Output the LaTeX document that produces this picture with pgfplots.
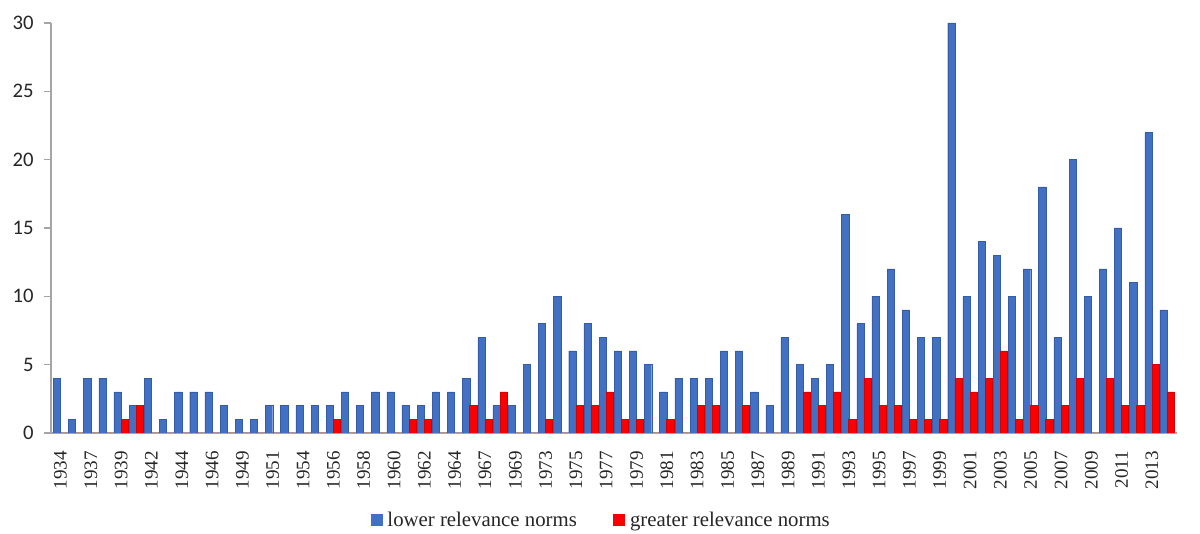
\documentclass[border=0pt]{standalone}
\usepackage{fontspec}
\setmainfont{Liberation Serif}
\newfontfamily\carlito{Carlito}
\usepackage{pgfplots}
\pgfplotsset{compat=1.18}
\usepackage{pgfplotstable}
\definecolor{barblue}{RGB}{66,112,194}
\definecolor{barbluedark}{RGB}{52,92,168}
\definecolor{barred}{RGB}{250,0,0}
\definecolor{barreddark}{RGB}{215,0,0}
\definecolor{axisgray}{RGB}{165,165,165}

\pgfplotstableread{
k blue red
0 4 0
1 1 0
2 4 0
3 4 0
4 3 1
5 2 2
6 4 0
7 1 0
8 3 0
9 3 0
10 3 0
11 2 0
12 1 0
13 1 0
14 2 0
15 2 0
16 2 0
17 2 0
18 2 1
19 3 0
20 2 0
21 3 0
22 3 0
23 2 1
24 2 1
25 3 0
26 3 0
27 4 2
28 7 1
29 2 3
30 2 0
31 5 0
32 8 1
33 10 0
34 6 2
35 8 2
36 7 3
37 6 1
38 6 1
39 5 0
40 3 1
41 4 0
42 4 2
43 4 2
44 6 0
45 6 2
46 3 0
47 2 0
48 7 0
49 5 3
50 4 2
51 5 3
52 16 1
53 8 4
54 10 2
55 12 2
56 9 1
57 7 1
58 7 1
59 30 4
60 10 3
61 14 4
62 13 6
63 10 1
64 12 2
65 18 1
66 7 2
67 20 4
68 10 0
69 12 4
70 15 2
71 11 2
72 22 5
73 9 3
}\data

\begin{document}
\begin{tikzpicture}
\path (-38.25pt,-75.75pt) rectangle (861.75pt,324.75pt);
\begin{axis}[
  at={(0,0)}, anchor=south west,
  scale only axis, width=844.5pt, height=307.5pt,
  xmin=-0.627, xmax=73.65, ymin=0, ymax=30,
  ybar=0pt, bar width=5.4pt,
  axis x line*=bottom, axis y line*=left,
  axis line style={axisgray, line width=1.3pt},
  ytick={0,5,...,30},
  xtick={0,2,...,72},
  xticklabels={1934,1937,1939,1942,1944,1946,1949,1951,1954,1956,1958,1960,1962,1964,1967,1969,1973,1975,1977,1979,1981,1983,1985,1987,1989,1991,1993,1995,1997,1999,2001,2003,2005,2007,2009,2011,2013},
  tick align=outside,
  major tick length=5pt,
  xtick style={draw=none},
  ytick style={axisgray, line width=0.8pt},
  x tick label style={rotate=90, anchor=east, font=\fontsize{14.3}{16}\selectfont, text=black!85},
  xticklabel shift=5pt,
  y tick label style={font=\carlito\fontsize{15.5}{18}\selectfont, text=black!85},
  yticklabel shift=4.5pt,
  /pgf/number format/assume math mode=true,
  legend style={at={(0.489,-0.212)}, anchor=center, draw=none, fill=none,
    legend columns=2, font=\fontsize{15.6}{18}\selectfont, text=black!85,
    /tikz/every odd column/.append style={column sep=2pt},
    /tikz/every even column/.append style={column sep=25pt}},
]
\addplot[fill=barblue, draw=barbluedark, line width=0.3pt,
  bar shift=-2.7pt,
  legend image code/.code={\fill[barblue] (0pt,-4.1pt) rectangle (8.25pt,4.1pt);}]
  table[x=k, y=blue] {\data};
\addlegendentry{lower relevance norms}
\addplot[fill=barred, draw=barreddark, line width=0.6pt,
  bar shift=2.7pt,
  legend image code/.code={\fill[barred] (0pt,-4.1pt) rectangle (8.25pt,4.1pt);}]
  table[x=k, y=red] {\data};
\addlegendentry{greater relevance norms}
\end{axis}
\end{tikzpicture}
\end{document}
